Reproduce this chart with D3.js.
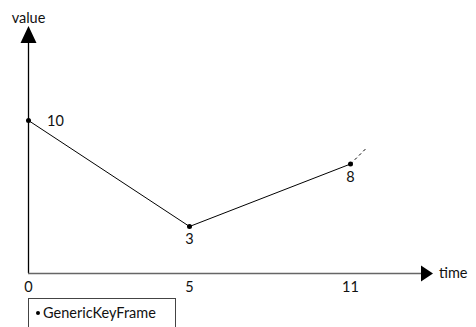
<!DOCTYPE html>
<html><head><meta charset="utf-8">
<script src="https://cdn.jsdelivr.net/npm/d3@7"></script>
<style>html,body{margin:0;padding:0;background:#fff;}text{font-family:Lato,"Open Sans",sans-serif;fill:#111;}</style>
</head><body><svg id="c" width="476" height="327"></svg>
<script>
const times = [0, 5, 11];
const values = [10, 3, 8];
const valueTicks = [3, 8, 10];
const xLabel = "time";
const yLabel = "value";
const legendLabel = "GenericKeyFrame";

const svg = d3.select("#c");
const fs = 14.5;
const x0 = 28, yAxisTop = 26, xAxisY = 273, xAxisRight = 433;

const x = d3.scalePoint().domain(times).range([28.5, 350.5]);
const y = d3.scaleLinear().domain(valueTicks).range([226.5, 164, 120.5]);

// y axis
svg.append("line").attr("x1", x0 + 0.5).attr("x2", x0 + 0.5).attr("y1", xAxisY).attr("y2", 42)
  .attr("stroke", "#000").attr("stroke-width", 1.3);
svg.append("path").attr("d", `M${x0+0.5},${yAxisTop} L${x0-7.5},${43} L${x0+8.5},${43}Z`).attr("fill", "#000");
svg.append("text").attr("x", x0 + 0.5).attr("y", 23).attr("text-anchor", "middle").attr("font-size", fs).text(yLabel);

// x axis
svg.append("line").attr("x1", x0).attr("x2", 422).attr("y1", xAxisY + 0.5).attr("y2", xAxisY + 0.5)
  .attr("stroke", "#666").attr("stroke-width", 1.5);
svg.append("path").attr("d", `M${xAxisRight},${xAxisY+0.5} L${421},${xAxisY-7.5} L${421},${xAxisY+8.5}Z`).attr("fill", "#000");
svg.append("text").attr("x", 439).attr("y", xAxisY + 5).attr("font-size", fs).text(xLabel);

// x tick labels
svg.selectAll(".xt").data(times).join("text").attr("class", "xt")
  .attr("x", d => x(d)).attr("y", 292).attr("text-anchor", "middle").attr("font-size", fs).text(d => d);

// line
const pts = times.map((t, i) => [x(t), y(values[i])]);
svg.append("path").attr("d", d3.line()(pts)).attr("fill", "none").attr("stroke", "#000").attr("stroke-width", 1);

// dashed continuation
const last = pts[pts.length - 1];
svg.append("line").attr("x1", last[0]).attr("y1", last[1]).attr("x2", last[0] + 15).attr("y2", last[1] - 15)
  .attr("stroke", "#000").attr("stroke-width", 1).attr("stroke-dasharray", "3,3");

// points
svg.selectAll(".pt").data(pts).join("circle").attr("class", "pt")
  .attr("cx", d => d[0]).attr("cy", d => d[1]).attr("r", 2.5).attr("fill", "#000");

// value labels
svg.selectAll(".vl").data(values).join("text").attr("class", "vl")
  .attr("x", (d, i) => i === 0 ? pts[i][0] + 27 : pts[i][0])
  .attr("y", (d, i) => i === 0 ? pts[i][1] + 5 : pts[i][1] + 17.5)
  .attr("text-anchor", "middle").attr("font-size", fs).text(d => d);

// legend
svg.append("rect").attr("x", 28.5).attr("y", 298.5).attr("width", 147).attr("height", 40)
  .attr("fill", "#fff").attr("stroke", "#444").attr("stroke-width", 1);
svg.append("circle").attr("cx", 38).attr("cy", 313).attr("r", 2).attr("fill", "#000");
svg.append("text").attr("x", 43).attr("y", 318).attr("font-size", fs).text(legendLabel);
</script></body></html>
